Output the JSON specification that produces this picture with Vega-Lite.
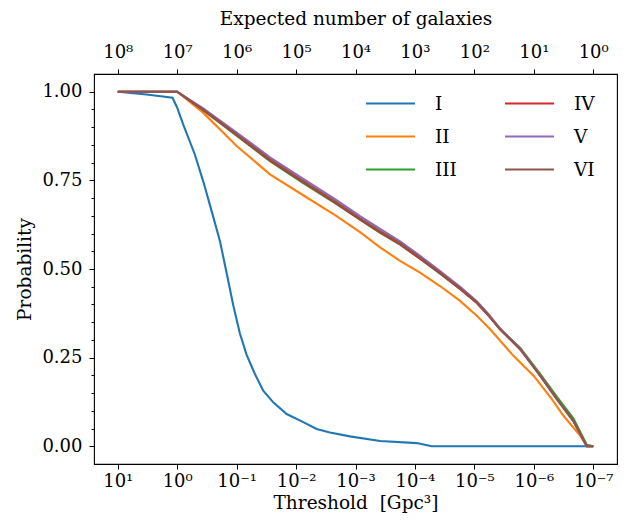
{
  "$schema": "https://vega.github.io/schema/vega-lite/v6.json",
  "width": 523,
  "height": 390,
  "autosize": "none",
  "padding": {"left": 94, "top": 74, "right": 17, "bottom": 65},
  "config": {
    "view": {"stroke": "black", "strokeWidth": 1.1},
    "font": "DejaVu Serif",
    "axis": {
      "grid": false,
      "domain": false,
      "tickColor": "black",
      "tickSize": 5,
      "tickWidth": 1,
      "labelColor": "black",
      "labelFont": "DejaVu Serif",
      "labelFontSize": 18,
      "titleFont": "DejaVu Serif",
      "titleFontSize": 18.5,
      "titleFontWeight": "normal",
      "titleColor": "black"
    },
    "legend": {
      "labelFont": "DejaVu Serif",
      "labelFontSize": 18.5,
      "labelColor": "black"
    }
  },
  "data": {
    "values": [
      {"s": "I", "t": 10, "p": 1.0},
      {"s": "I", "t": 3.29, "p": 0.992},
      {"s": "I", "t": 1.2, "p": 0.983},
      {"s": "I", "t": 1.0, "p": 0.955},
      {"s": "I", "t": 0.794, "p": 0.908},
      {"s": "I", "t": 0.505, "p": 0.823},
      {"s": "I", "t": 0.366, "p": 0.748},
      {"s": "I", "t": 0.264, "p": 0.664},
      {"s": "I", "t": 0.191, "p": 0.579},
      {"s": "I", "t": 0.148, "p": 0.49},
      {"s": "I", "t": 0.114, "p": 0.398},
      {"s": "I", "t": 0.0881, "p": 0.318},
      {"s": "I", "t": 0.0679, "p": 0.258},
      {"s": "I", "t": 0.0493, "p": 0.204},
      {"s": "I", "t": 0.0357, "p": 0.157},
      {"s": "I", "t": 0.0242, "p": 0.124},
      {"s": "I", "t": 0.0144, "p": 0.091},
      {"s": "I", "t": 0.00757, "p": 0.068},
      {"s": "I", "t": 0.0045, "p": 0.049},
      {"s": "I", "t": 0.00269, "p": 0.039},
      {"s": "I", "t": 0.00124, "p": 0.028},
      {"s": "I", "t": 0.000386, "p": 0.015},
      {"s": "I", "t": 0.0000931, "p": 0.009},
      {"s": "I", "t": 0.0000521, "p": 0.0},
      {"s": "I", "t": 1e-7, "p": 0.0},

      {"s": "II", "t": 10, "p": 1.0},
      {"s": "II", "t": 1.0, "p": 1.0},
      {"s": "II", "t": 0.366, "p": 0.941},
      {"s": "II", "t": 0.1, "p": 0.847},
      {"s": "II", "t": 0.0275, "p": 0.767},
      {"s": "II", "t": 0.00757, "p": 0.708},
      {"s": "II", "t": 0.00221, "p": 0.652},
      {"s": "II", "t": 0.000839, "p": 0.604},
      {"s": "II", "t": 0.000386, "p": 0.561},
      {"s": "II", "t": 0.000178, "p": 0.523},
      {"s": "II", "t": 0.000082, "p": 0.49},
      {"s": "II", "t": 0.0000378, "p": 0.452},
      {"s": "II", "t": 0.0000174, "p": 0.41},
      {"s": "II", "t": 0.0000091, "p": 0.368},
      {"s": "II", "t": 0.00000543, "p": 0.33},
      {"s": "II", "t": 0.0000022, "p": 0.255},
      {"s": "II", "t": 0.00000101, "p": 0.199},
      {"s": "II", "t": 4.97e-7, "p": 0.133},
      {"s": "II", "t": 3.17e-7, "p": 0.086},
      {"s": "II", "t": 1.66e-7, "p": 0.03},
      {"s": "II", "t": 1.28e-7, "p": 0.0},
      {"s": "II", "t": 1e-7, "p": 0.0},

      {"s": "III", "t": 10, "p": 1.0},
      {"s": "III", "t": 1.0, "p": 1.0},
      {"s": "III", "t": 0.366, "p": 0.948},
      {"s": "III", "t": 0.1, "p": 0.876},
      {"s": "III", "t": 0.0275, "p": 0.804},
      {"s": "III", "t": 0.00757, "p": 0.742},
      {"s": "III", "t": 0.00221, "p": 0.686},
      {"s": "III", "t": 0.000839, "p": 0.639},
      {"s": "III", "t": 0.000386, "p": 0.602},
      {"s": "III", "t": 0.000178, "p": 0.569},
      {"s": "III", "t": 0.000082, "p": 0.529},
      {"s": "III", "t": 0.0000378, "p": 0.487},
      {"s": "III", "t": 0.0000174, "p": 0.444},
      {"s": "III", "t": 0.0000091, "p": 0.405},
      {"s": "III", "t": 0.00000581, "p": 0.37},
      {"s": "III", "t": 0.00000368, "p": 0.331},
      {"s": "III", "t": 0.00000169, "p": 0.277},
      {"s": "III", "t": 7.82e-7, "p": 0.204},
      {"s": "III", "t": 4.08e-7, "p": 0.139},
      {"s": "III", "t": 2.15e-7, "p": 0.078},
      {"s": "III", "t": 1.28e-7, "p": 0.004},
      {"s": "III", "t": 1e-7, "p": 0.0},

      {"s": "IV", "t": 10, "p": 1.0},
      {"s": "IV", "t": 1.0, "p": 1.0},
      {"s": "IV", "t": 0.366, "p": 0.949},
      {"s": "IV", "t": 0.1, "p": 0.878},
      {"s": "IV", "t": 0.0275, "p": 0.806},
      {"s": "IV", "t": 0.00757, "p": 0.745},
      {"s": "IV", "t": 0.00221, "p": 0.688},
      {"s": "IV", "t": 0.000839, "p": 0.64},
      {"s": "IV", "t": 0.000386, "p": 0.604},
      {"s": "IV", "t": 0.000178, "p": 0.57},
      {"s": "IV", "t": 0.000082, "p": 0.529},
      {"s": "IV", "t": 0.0000378, "p": 0.488},
      {"s": "IV", "t": 0.0000174, "p": 0.444},
      {"s": "IV", "t": 0.0000091, "p": 0.404},
      {"s": "IV", "t": 0.00000581, "p": 0.369},
      {"s": "IV", "t": 0.00000368, "p": 0.329},
      {"s": "IV", "t": 0.00000169, "p": 0.273},
      {"s": "IV", "t": 7.82e-7, "p": 0.199},
      {"s": "IV", "t": 4.08e-7, "p": 0.133},
      {"s": "IV", "t": 2.15e-7, "p": 0.071},
      {"s": "IV", "t": 1.28e-7, "p": 0.0},
      {"s": "IV", "t": 1e-7, "p": 0.0},

      {"s": "V", "t": 10, "p": 1.0},
      {"s": "V", "t": 1.0, "p": 1.0},
      {"s": "V", "t": 0.366, "p": 0.953},
      {"s": "V", "t": 0.1, "p": 0.885},
      {"s": "V", "t": 0.0275, "p": 0.815},
      {"s": "V", "t": 0.00757, "p": 0.754},
      {"s": "V", "t": 0.00221, "p": 0.697},
      {"s": "V", "t": 0.000839, "p": 0.649},
      {"s": "V", "t": 0.000386, "p": 0.613},
      {"s": "V", "t": 0.000178, "p": 0.578},
      {"s": "V", "t": 0.000082, "p": 0.537},
      {"s": "V", "t": 0.0000378, "p": 0.494},
      {"s": "V", "t": 0.0000174, "p": 0.45},
      {"s": "V", "t": 0.0000091, "p": 0.409},
      {"s": "V", "t": 0.00000581, "p": 0.373},
      {"s": "V", "t": 0.00000368, "p": 0.332},
      {"s": "V", "t": 0.00000169, "p": 0.275},
      {"s": "V", "t": 7.82e-7, "p": 0.199},
      {"s": "V", "t": 4.08e-7, "p": 0.132},
      {"s": "V", "t": 2.15e-7, "p": 0.07},
      {"s": "V", "t": 1.28e-7, "p": 0.0},
      {"s": "V", "t": 1e-7, "p": 0.0},

      {"s": "VI", "t": 10, "p": 1.0},
      {"s": "VI", "t": 1.0, "p": 1.0},
      {"s": "VI", "t": 0.366, "p": 0.95},
      {"s": "VI", "t": 0.1, "p": 0.88},
      {"s": "VI", "t": 0.0275, "p": 0.809},
      {"s": "VI", "t": 0.00757, "p": 0.748},
      {"s": "VI", "t": 0.00221, "p": 0.691},
      {"s": "VI", "t": 0.000839, "p": 0.643},
      {"s": "VI", "t": 0.000386, "p": 0.607},
      {"s": "VI", "t": 0.000178, "p": 0.573},
      {"s": "VI", "t": 0.000082, "p": 0.532},
      {"s": "VI", "t": 0.0000378, "p": 0.49},
      {"s": "VI", "t": 0.0000174, "p": 0.446},
      {"s": "VI", "t": 0.0000091, "p": 0.406},
      {"s": "VI", "t": 0.00000581, "p": 0.37},
      {"s": "VI", "t": 0.00000368, "p": 0.33},
      {"s": "VI", "t": 0.00000169, "p": 0.274},
      {"s": "VI", "t": 7.82e-7, "p": 0.199},
      {"s": "VI", "t": 4.08e-7, "p": 0.133},
      {"s": "VI", "t": 2.15e-7, "p": 0.071},
      {"s": "VI", "t": 1.28e-7, "p": 0.0},
      {"s": "VI", "t": 1e-7, "p": 0.0}
    ]
  },
  "layer": [
    {
      "mark": {"type": "line", "strokeWidth": 2.1, "clip": true},
      "encoding": {
        "x": {
          "field": "t",
          "type": "quantitative",
          "scale": {"type": "log", "domain": [3.981e-8, 25.12], "reverse": true, "nice": false},
          "axis": {
            "orient": "bottom",
            "values": [10, 1, 0.1, 0.01, 0.001, 0.0001, 0.00001, 0.000001, 1e-7],
            "labelExpr": "'10' + (datum.value < 0.5 ? '⁻' : '') + ['⁰','¹','²','³','⁴','⁵','⁶','⁷','⁸','⁹'][abs(round(log(datum.value) / LN10))]",
            "labelPadding": 3,
            "title": "Threshold\u00a0\u00a0[Gpc³]",
            "titlePadding": 3
          }
        },
        "y": {
          "field": "p",
          "type": "quantitative",
          "scale": {"domain": [-0.05, 1.05], "nice": false, "zero": false},
          "axis": {
            "orient": "left",
            "values": [0, 0.05, 0.1, 0.15, 0.2, 0.25, 0.3, 0.35, 0.4, 0.45, 0.5, 0.55, 0.6, 0.65, 0.7, 0.75, 0.8, 0.85, 0.9, 0.95, 1],
            "labelExpr": "abs(datum.value * 4 - round(datum.value * 4)) < 0.001 ? format(datum.value, '.2f') : ''",
            "tickSize": {
              "condition": {"test": "abs(datum.value * 4 - round(datum.value * 4)) < 0.001", "value": 5},
              "value": 3
            },
            "labelPadding": 7,
            "title": "Probability",
            "titlePadding": 7
          }
        },
        "color": {
          "field": "s",
          "type": "nominal",
          "scale": {
            "domain": ["I", "II", "III", "IV", "V", "VI"],
            "range": ["#1f77b4", "#ff7f0e", "#2ca02c", "#d62728", "#9467bd", "#8c564b"]
          },
          "legend": {
            "orient": "none",
            "legendX": 283,
            "legendY": 16,
            "columns": 2,
            "title": null,
            "symbolType": "M-2,0H2",
            "symbolSize": 600,
            "symbolStrokeWidth": 2.1,
            "labelOffset": 31,
            "rowPadding": 10,
            "columnPadding": 43,
            "padding": 0
          }
        }
      }
    },
    {
      "mark": {"type": "point", "opacity": 0},
      "encoding": {
        "x": {
          "field": "t",
          "type": "quantitative",
          "axis": {
            "orient": "top",
            "values": [10, 1, 0.1, 0.01, 0.001, 0.0001, 0.00001, 0.000001, 1e-7],
            "labelExpr": "'10' + ['⁰','¹','²','³','⁴','⁵','⁶','⁷','⁸','⁹'][round(log(datum.value) / LN10) + 7]",
            "labelPadding": 8,
            "title": "Expected number of galaxies",
            "titlePadding": 15
          }
        }
      }
    }
  ],
  "resolve": {"axis": {"x": "independent"}}
}
